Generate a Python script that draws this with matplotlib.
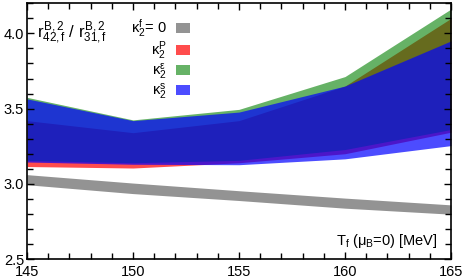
import matplotlib
matplotlib.use('Agg')
import matplotlib.pyplot as plt
from matplotlib.patches import Patch
from matplotlib.ticker import MultipleLocator

plt.rcParams['font.family'] = 'Liberation Sans'
plt.rcParams['mathtext.fontset'] = 'custom'
plt.rcParams['mathtext.rm'] = 'Liberation Sans'
plt.rcParams['mathtext.it'] = 'Liberation Sans'

# freeze-out temperature [MeV]
T = [145, 150, 155, 160, 165]

# kappa_2^f = 0 band
gray_lo = [2.994, 2.935, 2.889, 2.838, 2.798]
gray_hi = [3.061, 3.005, 2.954, 2.905, 2.860]

# kappa_2^P band
red_lo = [3.115, 3.105, 3.140, 3.200, 3.343]
red_hi = [3.420, 3.340, 3.420, 3.650, 4.100]

# kappa_2^eps band
green_lo = [3.155, 3.140, 3.156, 3.228, 3.361]
green_hi = [3.575, 3.425, 3.495, 3.713, 4.162]

# kappa_2^s band
blue_lo = [3.145, 3.130, 3.127, 3.166, 3.254]
blue_hi = [3.565, 3.420, 3.477, 3.650, 3.950]

labels = [r'$\kappa_2^f$= 0', r'$\kappa_2^P$', r'$\kappa_2^\epsilon$', r'$\kappa_2^s$']

fig = plt.figure(figsize=(4.63, 2.78), dpi=100)
ax = fig.add_axes([0.0583, 0.0683, 0.9157, 0.9197])

gray_c = '#939393'
red_c = (1, 0, 0, 0.7)
green_c = (0, 0.5, 0, 0.6)
blue_c = (0, 0, 1, 0.7)

ax.fill_between(T, gray_lo, gray_hi, color=gray_c, lw=0)
ax.fill_between(T, red_lo, red_hi, color=red_c, lw=0)
ax.fill_between(T, green_lo, green_hi, color=green_c, lw=0)
ax.fill_between(T, blue_lo, blue_hi, color=blue_c, lw=0)

ax.set_xlim(145, 165)
ax.set_ylim(2.5, 4.2)
ax.xaxis.set_major_locator(MultipleLocator(5))
ax.xaxis.set_minor_locator(MultipleLocator(1))
ax.yaxis.set_minor_locator(MultipleLocator(0.1))
ax.set_yticks([2.5, 3.0, 3.5, 4.0])
ax.set_yticklabels(['2.5', '3.0', '3.5', '4.0'])
ax.tick_params(which='both', direction='in', top=True, right=True, width=1.0, labelsize=10.5)
ax.tick_params(axis='x', pad=4.5)
ax.tick_params(axis='y', pad=2)
ax.tick_params(which='major', length=5)
ax.tick_params(which='minor', length=4)
for s in ax.spines.values():
    s.set_linewidth(1.2)

ax.text(0.024, 0.884, r'$r^{B,2}_{42,f}$ / $r^{B,2}_{31,f}$', transform=ax.transAxes,
        fontsize=12, ha='left', va='center')
ax.text(0.969, 0.035, r'T$_f$ ($\mu_B$=0) [MeV]', transform=ax.transAxes,
        fontsize=10.5, ha='right', va='bottom')

handles = [Patch(color=gray_c, lw=0), Patch(color=red_c, lw=0),
           Patch(color=green_c, lw=0), Patch(color=blue_c, lw=0)]
ax.legend(handles, labels, loc='upper right', bbox_to_anchor=(0.385, 0.945), frameon=False,
          markerfirst=False, fontsize=10.5, handlelength=1.0, handleheight=0.7,
          handletextpad=0.6, labelspacing=0.0, borderaxespad=0, borderpad=0)

fig.savefig('out.png', dpi=100)
